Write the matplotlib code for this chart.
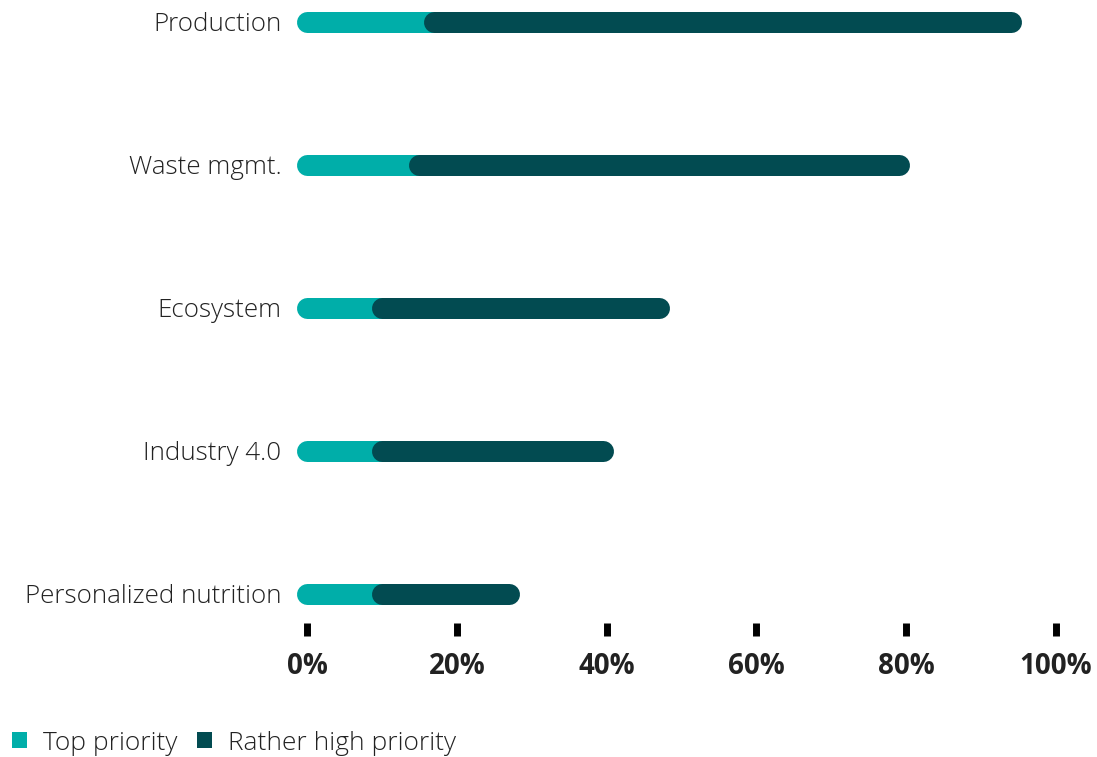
import matplotlib
matplotlib.use("Agg")
import matplotlib.pyplot as plt
from matplotlib.patches import Patch

# Share of respondents (%) per topic
categories = ["Production", "Waste mgmt.", "Ecosystem", "Industry 4.0", "Personalized nutrition"]
top_priority = [17, 15, 10, 10, 10]
rather_high_priority = [77, 64, 37, 29.5, 17]
tick_values = [0, 20, 40, 60, 80, 100]
tick_labels = ["0%", "20%", "40%", "60%", "80%", "100%"]
series_names = ["Top priority", "Rather high priority"]

TEAL = "#00aea9"
DARK = "#024b51"
TEXT = "#222222"

W, H, DPI = 1097, 757, 100
fig = plt.figure(figsize=(W / DPI, H / DPI), dpi=DPI)
fig.patch.set_facecolor("white")

# axes placed in pixel terms: x=0 -> 307 px, x=100 -> 1056 px; rows 143 px apart
x0_px, x1_px = 307, 1056
row_top_px, row_step = 21.5, 143
pad_rows = 0.15
n = len(categories)
ax_top = row_top_px - pad_rows * row_step
ax_bot = row_top_px + (n - 1 + pad_rows) * row_step
ax = fig.add_axes([x0_px / W, 1 - ax_bot / H, (x1_px - x0_px) / W, (ax_bot - ax_top) / H])
ax.set_xlim(0, 100)
ax.set_ylim(n - 1 + pad_rows, -pad_rows)

bar_lw = 21 * 72 / DPI
for i, (t, r) in enumerate(zip(top_priority, rather_high_priority)):
    ax.plot([0, t], [i, i], color=TEAL, lw=bar_lw, solid_capstyle="round", clip_on=False, zorder=2)
    ax.plot([t, t + r], [i, i], color=DARK, lw=bar_lw, solid_capstyle="round", clip_on=False, zorder=3)

for s in ax.spines.values():
    s.set_visible(False)
ax.spines["bottom"].set_position(("outward", 6))

ax.set_xticks(tick_values)
ax.set_xticklabels(tick_labels, fontfamily="Open Sans", fontweight="bold", fontsize=20, color=TEXT)
ax.tick_params(axis="x", length=9.5, width=5, color="black", pad=11, direction="out")

ax.set_yticks(range(n))
ax.set_yticklabels(categories, fontfamily="Open Sans", fontweight="light", fontsize=18.7, color=TEXT)
ax.tick_params(axis="y", length=0, pad=18.5)

handles = [Patch(facecolor=TEAL, edgecolor="none"), Patch(facecolor=DARK, edgecolor="none")]
leg = fig.legend(handles, series_names, loc="center left", bbox_to_anchor=(12 / W, 1 - 743 / H),
                 frameon=False, ncol=2, handlelength=0.57, handleheight=0.57, handletextpad=0.6,
                 columnspacing=0.75, borderpad=0, borderaxespad=0,
                 prop={"family": "Open Sans", "weight": "light", "size": 19})
for txt in leg.get_texts():
    txt.set_color(TEXT)

fig.savefig("out.png", dpi=DPI)
